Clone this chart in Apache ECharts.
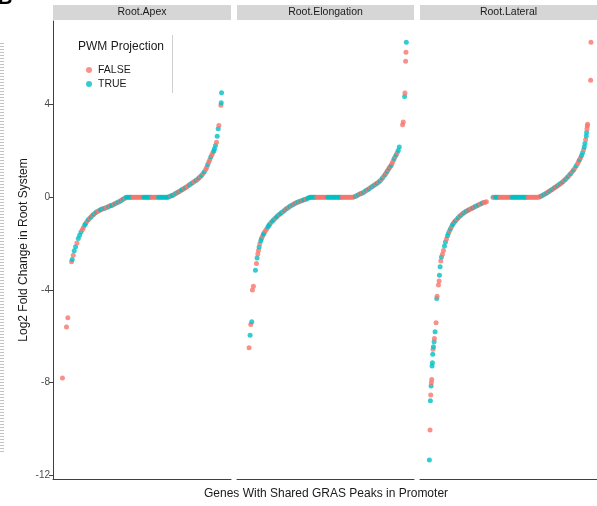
<!DOCTYPE html>
<html><head><meta charset="utf-8">
<script src="https://cdn.jsdelivr.net/npm/echarts@6/dist/echarts.min.js"></script>
<style>html,body{margin:0;padding:0;background:#fff}#c{width:597px;height:506px}</style>
</head><body><div id="c"></div>
<script>
// ---------- data ----------
const panelNames = ['Root.Apex', 'Root.Elongation', 'Root.Lateral'];
const legendNames = ['FALSE', 'TRUE'];
const yTicks = [-12, -8, -4, 0, 4];

// gene rank (x), log2 fold change (y), PWM projection flag (F/T)
const apexRank = [4,16,20,31,33,36,39,43,47,51,55,59,63,66,70,73,77,81,85,89,93,97,101,105,109,113,117,121,125,129,133,137,141,145,149,153,157,161,165,169,173,177,181,185,189,
  193,197,201,205,209,213,217,221,225,229,233,237,241,245,249,253,257,261,265,269,273,277,281,285,289,293,297,301,305,309,313,317,
  321,325,329,333,337,341,345,349,353,357,361,365,369,373,377,381,385,389,393,397,401,405,409,413,417,421,425,429,432,435,438,441,444,447,450,453,455,458,461,463,466,468,474,475,476];
const apexLfc = [-7.80,-5.60,-5.20,-2.78,-2.68,-2.50,-2.31,-2.14,-1.97,-1.78,-1.64,-1.50,-1.40,-1.31,-1.20,-1.13,-1.03,-0.96,-0.90,-0.84,-0.78,-0.73,-0.68,-0.64,-0.60,-0.57,-0.54,-0.51,-0.49,-0.47,-0.45,-0.43,-0.40,-0.37,-0.35,-0.33,-0.30,-0.27,-0.24,-0.21,-0.18,-0.15,-0.11,-0.07,-0.04,
  0,0,0,0,0,0,0,0,0,0,0,0,0,0,0,0,0,0,0,0,0,0,0,0,0,0,0,0,0,0,0,0,
  0.03,0.06,0.08,0.10,0.14,0.18,0.21,0.24,0.27,0.31,0.35,0.38,0.42,0.46,0.50,0.54,0.58,0.62,0.66,0.70,0.74,0.78,0.84,0.89,0.95,1.03,1.10,1.20,1.30,1.42,1.52,1.62,1.74,1.83,1.92,2.00,2.10,2.24,2.38,2.64,2.96,3.10,3.97,4.08,4.51];
const apexPwm = 'FFFFT FTTFT TTFFT TFTFT FTFTF FTTFT FFTFT TFTFT FTFTF TTTTT FFFFFFFF TTTTTT FFFFF TTTTTTTT TFTTF TFTFT TFTFF TFTFF TFTFT FTFFT FFTFF TTTFT TFFTT';

const elongRank = [12,15,17,20,22,25,31,34,36,38,40,42,44,47,49,52,55,57,60,64,68,71,74,78,82,86,90,94,98,102,106,110,114,118,122,126,130,134,138,142,146,150,154,158,162,166,170,174,178,182,186,190,
  194,198,202,206,210,214,218,222,226,230,234,238,242,246,250,254,258,262,266,270,274,278,282,286,290,294,298,302,306,310,314,318,322,
  326,330,334,338,342,346,350,354,358,362,366,370,374,378,382,386,390,394,398,402,406,410,414,418,421,424,427,430,433,436,439,442,445,448,451,454,457,460,470,472,476,477,479,480,481];
const elongLfc = [-6.49,-5.95,-5.49,-5.37,-4.00,-3.84,-3.15,-2.86,-2.62,-2.45,-2.30,-2.15,-2.00,-1.88,-1.78,-1.68,-1.60,-1.54,-1.46,-1.38,-1.28,-1.22,-1.15,-1.08,-1.02,-0.96,-0.90,-0.85,-0.79,-0.74,-0.70,-0.65,-0.61,-0.56,-0.51,-0.47,-0.43,-0.39,-0.35,-0.32,-0.29,-0.26,-0.23,-0.20,-0.18,-0.16,-0.14,-0.12,-0.10,-0.08,-0.05,-0.02,
  0,0,0,0,0,0,0,0,0,0,0,0,0,0,0,0,0,0,0,0,0,0,0,0,0,0,0,0,0,0,0,0,0,
  0.02,0.05,0.08,0.11,0.14,0.16,0.19,0.22,0.26,0.30,0.33,0.37,0.41,0.45,0.49,0.53,0.57,0.61,0.65,0.70,0.76,0.83,0.91,0.98,1.05,1.12,1.19,1.26,1.32,1.38,1.48,1.58,1.67,1.76,1.84,1.92,2.02,2.17,3.13,3.25,4.35,4.50,5.87,6.26,6.69];
const elongPwm = 'FTFTF FTFTF FTFTT FTTFF TTTFT TFTTF TTFTF TFTFT FTFTF TFTTF TT TTTTT FFFFFFFF TTTTTTTTTTT FFFFFFFFF FTFTF TFTFT FTFTF TFTFT FTFTF TFTFT FFTFT FTTFF TFFFT';

const latRank = [4,6,7,8,9,10,11,12,13,14,15,16,18,19,21,24,26,27,31,33,34,36,38,40,43,46,49,52,55,58,61,64,67,70,73,76,79,82,86,90,94,98,102,106,110,114,118,122,126,130,134,138,142,146,150,154,158,162,166,170,174,
  194,198,202,206,210,214,218,222,226,230,234,238,242,246,250,254,258,262,266,270,274,278,282,286,290,294,298,302,306,310,314,318,322,326,330,
  334,338,342,346,350,354,358,362,366,370,374,378,382,386,390,394,398,402,406,410,414,418,422,426,430,434,438,442,446,449,452,455,458,461,464,466,468,470,472,473,474,475,476,485,486];
const latLfc = [-11.34,-10.04,-8.78,-8.53,-8.15,-8.00,-7.86,-7.28,-7.14,-6.77,-6.56,-6.45,-6.24,-6.10,-5.80,-5.42,-4.37,-4.27,-3.79,-3.61,-3.36,-3.00,-2.75,-2.58,-2.46,-2.30,-2.10,-1.93,-1.80,-1.66,-1.54,-1.44,-1.36,-1.27,-1.19,-1.12,-1.06,-1.01,-0.95,-0.88,-0.82,-0.77,-0.72,-0.68,-0.64,-0.60,-0.57,-0.54,-0.51,-0.48,-0.45,-0.42,-0.39,-0.36,-0.33,-0.30,-0.28,-0.25,-0.23,-0.21,-0.19,
  0,0,0,0,0,0,0,0,0,0,0,0,0,0,0,0,0,0,0,0,0,0,0,0,0,0,0,0,0,0,0,0,0,0,0,
  0.03,0.06,0.09,0.12,0.15,0.19,0.23,0.26,0.30,0.34,0.38,0.42,0.46,0.50,0.54,0.58,0.62,0.67,0.72,0.78,0.84,0.90,0.97,1.03,1.10,1.18,1.27,1.36,1.45,1.54,1.62,1.71,1.80,1.92,2.05,2.17,2.32,2.48,2.65,2.80,2.95,3.08,3.15,5.05,6.69];
const latPwm = 'TFTFT FFTTT FTTFT FTFFF TTFTF FTTFT TFTFT TFTFT FTFTF TFTFF TFTFT FFTFF F TFTTT FFFFFFFFF TTTTTTTTTTTT FFFFFFFFF FTFTF TFTFT FTFTF TFTFT FTFTF TFTFF TFTTF TTFTT FFFFF';

// ---------- chart ----------
const FONT = '"Liberation Sans", Arial, Helvetica, sans-serif';
const COL = { F: '#F8766D', T: '#00BFC4' };
const panelData = [
  { rank: apexRank, lfc: apexLfc, pwm: apexPwm },
  { rank: elongRank, lfc: elongLfc, pwm: elongPwm },
  { rank: latRank, lfc: latLfc, pwm: latPwm }
];
const gridBox = [{ left: 53, width: 178 }, { left: 237, width: 177 }, { left: 420, width: 177 }];
const TOP = 21, HEIGHT = 458;
const axisColor = '#3f3f3f';

const grid = [], xAxis = [], yAxis = [], series = [];
panelData.forEach((p, i) => {
  const flags = p.pwm.replace(/\s+/g, '');
  grid.push({ left: gridBox[i].left, width: gridBox[i].width, top: TOP, height: HEIGHT, containLabel: false });
  xAxis.push({ type: 'value', gridIndex: i, min: -24, max: 504,
    axisLine: { show: true, onZero: false, lineStyle: { color: axisColor, width: 1 } },
    axisTick: { show: false }, axisLabel: { show: false }, splitLine: { show: false } });
  yAxis.push({ type: 'value', gridIndex: i, min: -12.16, max: 7.61,
    axisLine: { show: i === 0, onZero: false, lineStyle: { color: axisColor, width: 1 } },
    axisTick: { show: i === 0, length: 4, customValues: yTicks, lineStyle: { color: axisColor } },
    axisLabel: { show: i === 0, customValues: yTicks, margin: 3, color: '#4d4d4d', fontSize: 10, fontFamily: FONT },
    splitLine: { show: false },
    name: i === 0 ? 'Log2 Fold Change in Root System' : '',
    nameLocation: 'middle', nameGap: 23,
    nameTextStyle: { color: '#1a1a1a', fontSize: 12, fontFamily: FONT } });
  const pts = p.rank.map((r, k) => ({ value: [r, p.lfc[k]], itemStyle: { color: COL[flags[k]] } }));
  series.push({ type: 'scatter', name: 'pts' + i, xAxisIndex: i, yAxisIndex: i, symbol: 'circle', symbolSize: 5,
    data: pts, animation: false, silent: true });
});
// legend keys
legendNames.forEach((n, k) => series.push({ type: 'scatter', name: n, xAxisIndex: 0, yAxisIndex: 0, data: [],
  itemStyle: { color: k === 0 ? COL.F : COL.T } }));

const graphic = [];
panelNames.forEach((n, i) => {
  graphic.push({ type: 'rect', left: gridBox[i].left, top: 5, shape: { width: gridBox[i].width, height: 15 }, style: { fill: '#d6d6d6' }, silent: true });
  graphic.push({ type: 'text', x: gridBox[i].left + gridBox[i].width / 2, y: 12.5,
    style: { text: n, fill: '#1a1a1a', font: '10.5px ' + FONT, textAlign: 'center', textVerticalAlign: 'middle' } });
});
graphic.push({ type: 'text', x: 78, y: 47, style: { text: 'PWM Projection', fill: '#1a1a1a', font: '12px ' + FONT, textAlign: 'left', textVerticalAlign: 'middle' } });
graphic.push({ type: 'line', shape: { x1: 172.5, y1: 35, x2: 172.5, y2: 93 }, style: { stroke: '#d0d0d0', lineWidth: 1 } });
graphic.push({ type: 'text', x: 326, y: 494, style: { text: 'Genes With Shared GRAS Peaks in Promoter', fill: '#1a1a1a', font: '12px ' + FONT, textAlign: 'center', textVerticalAlign: 'middle' } });
graphic.push({ type: 'text', x: -2, y: -12, style: { text: 'B', fill: '#000', font: 'bold 20px ' + FONT, textAlign: 'left', textVerticalAlign: 'top' } });
graphic.push({ type: 'line', shape: { x1: 2, y1: 43, x2: 2, y2: 453 }, style: { stroke: '#c4c4c4', lineWidth: 4, lineDash: [1, 2] } });

const chart = echarts.init(document.getElementById('c'), null, { renderer: 'canvas' });
chart.setOption({
  backgroundColor: '#ffffff',
  animation: false,
  textStyle: { fontFamily: FONT },
  grid, xAxis, yAxis, series, graphic,
  legend: { data: legendNames, orient: 'vertical', left: 81, top: 59, icon: 'circle', itemWidth: 6, itemHeight: 6, itemGap: 2,
    selectedMode: false,
    textStyle: { color: '#1a1a1a', fontSize: 10.5, fontFamily: FONT, lineHeight: 12, padding: [0, 0, 0, 1] } }
});
</script></body></html>
